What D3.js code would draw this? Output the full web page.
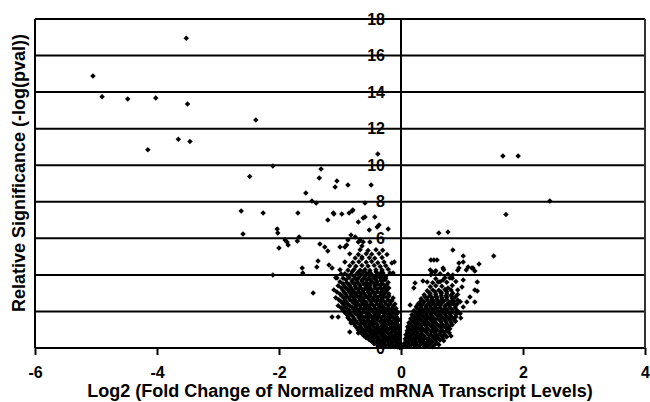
<!DOCTYPE html>
<html>
<head>
<meta charset="utf-8">
<script src="https://cdn.jsdelivr.net/npm/d3@7"></script>
<style>
  html, body { margin: 0; padding: 0; background: #fff; }
  svg { display: block; }
  text { font-family: Arial, "Liberation Sans", sans-serif; font-weight: bold; fill: #000; }
</style>
</head>
<body>
<svg id="chart" width="650" height="402"></svg>
<script>
// ---- Data (log2 fold change, -log(pval)) ----
const xTicks = [-6, -4, -2, 0, 2, 4];
const yTicks = [0, 2, 4, 6, 8, 10, 12, 14, 16, 18];
const xTitle = "Log2 (Fold Change of Normalized mRNA Transcript Levels)";
const yTitle = "Relative Significance (-log(pval))";

// Down-regulated, scattered points
const downScattered = [
  [-5.05,14.88],[-4.90,13.75],[-4.48,13.62],[-4.02,13.68],[-4.15,10.85],[-3.52,16.95],[-3.50,13.35],
  [-3.65,11.42],[-3.46,11.30],[-2.38,12.47],[-2.10,9.96],[-2.48,9.38],[-2.62,7.49],[-2.26,7.38],
  [-2.59,6.24],[-2.03,6.51],[-2.02,6.29],[-1.90,5.91],[-1.85,5.63],[-2.00,5.47],[-1.87,5.80],
  [-1.69,7.38],[-1.67,6.07],[-1.70,5.85],[-1.56,8.48],[-1.46,8.04],[-1.39,7.93],[-1.31,9.79],
  [-1.34,9.30],[-1.20,7.00],[-1.33,5.69],[-1.25,5.53],[-1.20,5.31],[-1.36,4.76],[-1.38,4.43],
  [-1.18,4.54],[-1.62,4.38],[-1.61,4.10],[-2.10,3.99],[-1.44,3.01],[-1.05,9.14],[-1.08,8.81],
  [-0.87,8.92],[-1.10,7.33],[-0.97,7.33],[-0.85,7.38],[-0.80,7.49],[-0.70,6.89],[-0.82,6.18],
  [-0.87,5.91],[-1.00,5.53],[-0.92,5.53],[-0.89,5.63],[-0.70,5.80],[-0.49,8.92],[-0.38,10.61],
  [-0.59,7.93],[-0.59,7.17],[-0.62,7.11],[-0.43,7.17],[-0.52,6.46],[-0.36,6.73],[-0.21,6.51],
  [-0.67,5.91],[-0.62,5.80],[-0.51,5.80],[-0.64,5.58],[-0.75,6.07],[-0.64,4.98],[-1.11,7.38],
  [-0.79,7.55],[-0.39,6.62],[-0.15,4.65],[-0.13,4.10],[-0.11,4.70],[-0.18,4.10],[-1.13,4.38],
  [-1.05,3.83],[-0.98,4.05],[-1.13,1.70],[-1.03,1.70],[-0.84,0.88],[-0.82,1.37],[-0.70,0.82],
  [-0.10,2.41]
];

// Down-regulated, dense cloud near the origin
const downCloud = [
  [-0.02,0.03],
  [-0.38,0.12],[-0.31,0.09],[-0.25,0.14],[-0.18,0.10],[-0.11,0.08],[-0.05,0.05],
  [-0.48,0.35],[-0.41,0.31],[-0.34,0.36],[-0.28,0.30],[-0.21,0.34],[-0.15,0.32],[-0.08,0.29],[-0.03,0.22],
  [-0.57,0.56],[-0.49,0.52],[-0.43,0.58],[-0.36,0.54],[-0.28,0.57],[-0.21,0.53],[-0.15,0.55],[-0.08,0.51],[-0.03,0.45],
  [-0.64,0.78],[-0.56,0.74],[-0.49,0.79],[-0.41,0.75],[-0.34,0.78],[-0.28,0.76],[-0.21,0.80],[-0.15,0.74],[-0.08,0.77],[-0.03,0.70],
  [-0.70,0.99],[-0.62,0.96],[-0.56,1.01],[-0.48,0.97],[-0.41,1.00],[-0.33,0.95],[-0.26,0.99],[-0.20,1.02],[-0.13,0.96],[-0.07,0.98],
  [-0.75,1.21],[-0.67,1.18],[-0.59,1.23],[-0.52,1.19],[-0.46,1.22],[-0.38,1.17],[-0.31,1.21],[-0.25,1.20],[-0.18,1.24],[-0.11,1.18],[-0.05,1.15],
  [-0.80,1.43],[-0.72,1.40],[-0.64,1.45],[-0.57,1.41],[-0.49,1.44],[-0.43,1.39],[-0.34,1.43],[-0.28,1.42],[-0.21,1.46],[-0.15,1.40],[-0.08,1.38],
  [-0.87,1.65],[-0.77,1.62],[-0.69,1.67],[-0.61,1.63],[-0.54,1.66],[-0.46,1.61],[-0.39,1.65],[-0.33,1.68],[-0.25,1.62],[-0.18,1.66],[-0.11,1.63],[-0.05,1.60],
  [-0.90,1.87],[-0.82,1.84],[-0.74,1.88],[-0.66,1.85],[-0.57,1.89],[-0.51,1.83],[-0.43,1.87],[-0.36,1.86],[-0.28,1.90],[-0.21,1.84],[-0.15,1.88],[-0.08,1.85],
  [-0.95,2.09],[-0.85,2.06],[-0.77,2.10],[-0.70,2.07],[-0.62,2.11],[-0.54,2.05],[-0.48,2.09],[-0.39,2.08],[-0.33,2.12],[-0.25,2.06],[-0.18,2.10],[-0.10,2.07],
  [-1.03,2.31],[-0.92,2.28],[-0.84,2.32],[-0.74,2.29],[-0.67,2.33],[-0.59,2.27],[-0.52,2.31],[-0.44,2.30],[-0.36,2.34],[-0.30,2.28],[-0.21,2.32],[-0.13,2.29],
  [-0.98,2.53],[-0.89,2.50],[-0.80,2.54],[-0.72,2.51],[-0.64,2.55],[-0.57,2.49],[-0.49,2.53],[-0.41,2.52],[-0.34,2.56],[-0.26,2.50],[-0.18,2.54],
  [-1.07,2.75],[-0.93,2.72],[-0.85,2.76],[-0.77,2.73],[-0.69,2.77],[-0.62,2.71],[-0.54,2.75],[-0.46,2.74],[-0.39,2.78],[-0.31,2.72],[-0.23,2.76],[-0.13,2.73],
  [-1.00,2.96],[-0.90,2.93],[-0.82,2.97],[-0.74,2.94],[-0.66,2.98],[-0.59,2.92],[-0.51,2.96],[-0.43,2.95],[-0.34,2.99],[-0.28,2.93],[-0.20,2.97],
  [-1.10,3.18],[-0.95,3.15],[-0.87,3.19],[-0.79,3.16],[-0.70,3.20],[-0.62,3.14],[-0.54,3.18],[-0.48,3.17],[-0.39,3.21],[-0.31,3.15],[-0.23,3.19],
  [-1.03,3.40],[-0.92,3.37],[-0.84,3.41],[-0.75,3.38],[-0.67,3.42],[-0.57,3.36],[-0.51,3.40],[-0.43,3.39],[-0.34,3.43],[-0.26,3.37],
  [-1.00,3.62],[-0.89,3.59],[-0.80,3.63],[-0.72,3.60],[-0.64,3.64],[-0.56,3.58],[-0.48,3.62],[-0.39,3.61],[-0.31,3.65],[-0.21,3.59],
  [-1.07,3.84],[-0.95,3.81],[-0.85,3.85],[-0.75,3.82],[-0.69,3.86],[-0.61,3.80],[-0.52,3.84],[-0.44,3.83],[-0.34,3.87],[-0.25,3.81],
  [-0.92,4.06],[-0.82,4.03],[-0.72,4.07],[-0.64,4.04],[-0.56,4.08],[-0.48,4.02],[-0.38,4.06],[-0.30,4.05],
  [-1.00,4.28],[-0.87,4.25],[-0.77,4.29],[-0.67,4.26],[-0.59,4.30],[-0.51,4.24],[-0.41,4.28],[-0.31,4.27],[-0.21,4.31],
  [-0.84,4.50],[-0.74,4.47],[-0.64,4.51],[-0.54,4.48],[-0.44,4.52],[-0.34,4.46],[-0.25,4.50],
  [-0.92,4.71],[-0.79,4.68],[-0.69,4.72],[-0.57,4.69],[-0.48,4.73],[-0.38,4.67],[-0.28,4.71],
  [-0.75,4.93],[-0.64,4.90],[-0.52,4.94],[-0.43,4.91],[-0.31,4.95],
  [-0.84,5.15],[-0.70,5.12],[-0.57,5.16],[-0.48,5.13],[-0.36,5.17],[-0.23,5.11],
  [-0.67,5.37],[-0.54,5.34],[-0.41,5.38],[-0.30,5.35]
];

// Down-regulated, solid core (points between the rows above)
const downCore = [
  [-0.44,0.23],[-0.36,0.20],[-0.30,0.24],[-0.21,0.21],[-0.15,0.22],[-0.08,0.19],
  [-0.52,0.45],[-0.46,0.42],[-0.38,0.46],[-0.31,0.43],[-0.25,0.44],[-0.18,0.41],[-0.11,0.45],[-0.07,0.40],
  [-0.61,0.67],[-0.52,0.64],[-0.46,0.68],[-0.39,0.65],[-0.31,0.66],[-0.25,0.63],[-0.18,0.67],[-0.11,0.64],[-0.05,0.60],
  [-0.67,0.89],[-0.59,0.86],[-0.52,0.90],[-0.44,0.87],[-0.38,0.88],[-0.30,0.85],[-0.23,0.89],[-0.16,0.86],[-0.10,0.88],[-0.03,0.84],
  [-0.72,1.10],[-0.64,1.07],[-0.57,1.11],[-0.51,1.08],[-0.43,1.09],[-0.36,1.06],[-0.30,1.10],[-0.23,1.08],[-0.16,1.11],[-0.10,1.07],[-0.03,1.05],
  [-0.77,1.32],[-0.67,1.29],[-0.61,1.33],[-0.52,1.30],[-0.46,1.31],[-0.39,1.28],[-0.31,1.32],[-0.25,1.30],[-0.18,1.33],[-0.11,1.29],[-0.05,1.27],
  [-0.84,1.54],[-0.75,1.51],[-0.67,1.55],[-0.61,1.52],[-0.54,1.53],[-0.46,1.50],[-0.39,1.54],[-0.31,1.52],[-0.25,1.55],[-0.18,1.51],[-0.11,1.53],[-0.05,1.49],
  [-0.87,1.76],[-0.79,1.73],[-0.70,1.77],[-0.64,1.74],[-0.57,1.75],[-0.49,1.72],[-0.43,1.76],[-0.36,1.74],[-0.28,1.77],[-0.21,1.73],[-0.15,1.75],[-0.08,1.71],
  [-0.93,1.98],[-0.85,1.95],[-0.77,1.99],[-0.70,1.96],[-0.62,1.97],[-0.54,1.94],[-0.46,1.98],[-0.39,1.96],[-0.33,1.99],[-0.26,1.95],[-0.18,1.97],[-0.11,1.93],[-0.05,1.94],
  [-0.98,2.20],[-0.89,2.17],[-0.80,2.21],[-0.74,2.18],[-0.66,2.19],[-0.57,2.16],[-0.51,2.20],[-0.43,2.18],[-0.36,2.21],[-0.28,2.17],[-0.21,2.19],[-0.15,2.15],[-0.08,2.16],
  [-0.95,2.42],[-0.87,2.39],[-0.77,2.43],[-0.70,2.40],[-0.62,2.41],[-0.56,2.38],[-0.48,2.42],[-0.39,2.40],[-0.33,2.43],[-0.25,2.39],[-0.18,2.41],
  [-1.02,2.64],[-0.92,2.61],[-0.84,2.65],[-0.75,2.62],[-0.67,2.63],[-0.61,2.60],[-0.52,2.64],[-0.44,2.62],[-0.38,2.65],[-0.30,2.61],[-0.21,2.63],[-0.15,2.59],
  [-0.97,2.85],[-0.89,2.82],[-0.80,2.86],[-0.72,2.83],[-0.66,2.84],[-0.57,2.81],[-0.51,2.85],[-0.43,2.83],[-0.34,2.86],[-0.28,2.82],[-0.20,2.84],
  [-1.05,3.07],[-0.93,3.04],[-0.85,3.08],[-0.77,3.05],[-0.70,3.06],[-0.62,3.03],[-0.54,3.07],[-0.46,3.05],[-0.39,3.08],[-0.31,3.04],[-0.25,3.06],
  [-0.98,3.29],[-0.89,3.26],[-0.82,3.30],[-0.74,3.27],[-0.66,3.28],[-0.59,3.25],[-0.51,3.29],[-0.43,3.27],[-0.34,3.30],[-0.28,3.26],[-0.20,3.28],
  [-0.95,3.51],[-0.85,3.48],[-0.77,3.52],[-0.69,3.49],[-0.61,3.50],[-0.52,3.47],[-0.44,3.51],[-0.38,3.49],[-0.30,3.52],[-0.23,3.48],
  [-0.90,3.73],[-0.80,3.70],[-0.72,3.74],[-0.64,3.71],[-0.56,3.72],[-0.49,3.69],[-0.41,3.73],[-0.33,3.71],[-0.26,3.74],
  [-0.87,3.95],[-0.77,3.92],[-0.67,3.96],[-0.59,3.93],[-0.51,3.94],[-0.43,3.91],[-0.34,3.95],[-0.25,3.93],
  [-0.80,4.17],[-0.70,4.14],[-0.61,4.18],[-0.51,4.15],[-0.41,4.16],[-0.30,4.13]
];

// Up-regulated, dense cloud near the origin
const upCloud = [
  [0.01,0.03],
  [0.03,0.06],[0.10,0.10],[0.16,0.13],[0.23,0.09],[0.30,0.12],[0.38,0.08],[0.44,0.11],[0.52,0.07],
  [0.05,0.25],[0.11,0.31],[0.18,0.35],[0.25,0.32],[0.31,0.36],[0.38,0.30],[0.44,0.34],[0.51,0.33],[0.59,0.29],
  [0.07,0.50],[0.13,0.56],[0.20,0.53],[0.26,0.57],[0.33,0.54],[0.39,0.58],[0.46,0.52],[0.54,0.56],[0.61,0.55],[0.69,0.51],
  [0.08,0.72],[0.15,0.78],[0.21,0.75],[0.28,0.79],[0.34,0.76],[0.43,0.80],[0.49,0.74],[0.56,0.78],[0.64,0.77],[0.72,0.73],
  [0.10,0.94],[0.16,0.99],[0.23,0.97],[0.31,1.01],[0.38,0.98],[0.44,1.02],[0.52,0.96],[0.59,1.00],[0.67,0.99],[0.75,0.95],
  [0.11,1.16],[0.18,1.21],[0.26,1.19],[0.33,1.23],[0.41,1.20],[0.48,1.24],[0.54,1.18],[0.62,1.22],[0.70,1.21],[0.79,1.17],
  [0.13,1.38],[0.21,1.43],[0.28,1.41],[0.36,1.45],[0.43,1.42],[0.51,1.46],[0.57,1.40],[0.66,1.44],[0.74,1.43],[0.82,1.39],[0.89,1.45],
  [0.16,1.60],[0.23,1.65],[0.31,1.63],[0.38,1.67],[0.46,1.64],[0.52,1.68],[0.61,1.62],[0.69,1.66],[0.77,1.65],[0.85,1.61],
  [0.18,1.82],[0.26,1.87],[0.33,1.85],[0.41,1.89],[0.49,1.86],[0.56,1.90],[0.64,1.84],[0.72,1.88],[0.80,1.87],[0.90,1.83],[0.97,1.89],
  [0.21,2.04],[0.30,2.09],[0.36,2.07],[0.44,2.11],[0.52,2.08],[0.59,2.12],[0.67,2.06],[0.75,2.10],[0.84,2.09],[0.92,2.05],
  [0.25,2.26],[0.33,2.31],[0.41,2.29],[0.48,2.33],[0.56,2.30],[0.64,2.34],[0.72,2.28],[0.80,2.32],[0.89,2.31],
  [0.30,2.48],[0.38,2.53],[0.46,2.51],[0.54,2.55],[0.62,2.52],[0.70,2.56],[0.79,2.50],[0.87,2.54],[0.97,2.53],
  [0.33,2.70],[0.43,2.75],[0.51,2.73],[0.59,2.77],[0.67,2.74],[0.75,2.78],[0.84,2.72],
  [0.38,2.91],[0.48,2.96],[0.57,2.94],[0.66,2.98],[0.75,2.95],[0.85,2.99],[0.93,2.93],
  [0.43,3.13],[0.52,3.18],[0.62,3.16],[0.72,3.20],[0.82,3.17],
  [0.48,3.35],[0.57,3.40],[0.67,3.38],[0.84,3.42],
  [0.52,3.57],[0.64,3.62],[0.75,3.60],[0.90,3.64],
  [0.57,3.79],[0.72,3.84],[0.84,3.82],
  [0.49,4.01],[0.64,4.06],[0.77,4.04],
  [0.57,4.23],[0.70,4.28],[0.93,4.26]
];

// Up-regulated, solid core (points between the rows above)
const upCore = [
  [0.07,0.20],[0.13,0.22],[0.20,0.24],[0.26,0.21],[0.34,0.23],[0.41,0.19],[0.48,0.22],[0.56,0.20],[0.62,0.18],
  [0.08,0.42],[0.15,0.45],[0.23,0.43],[0.30,0.46],[0.36,0.44],[0.43,0.47],[0.49,0.41],[0.56,0.45],[0.64,0.44],[0.70,0.40],
  [0.10,0.64],[0.16,0.67],[0.25,0.65],[0.31,0.68],[0.38,0.66],[0.46,0.69],[0.52,0.63],[0.59,0.67],[0.67,0.66],[0.75,0.62],
  [0.11,0.86],[0.20,0.89],[0.26,0.87],[0.34,0.90],[0.41,0.88],[0.49,0.91],[0.56,0.85],[0.64,0.89],[0.70,0.88],[0.79,0.84],
  [0.13,1.07],[0.21,1.10],[0.28,1.08],[0.34,1.11],[0.43,1.09],[0.51,1.12],[0.57,1.06],[0.66,1.10],[0.74,1.09],[0.80,1.05],
  [0.16,1.29],[0.23,1.32],[0.30,1.30],[0.38,1.33],[0.46,1.31],[0.52,1.34],[0.59,1.28],[0.67,1.32],[0.75,1.31],[0.84,1.27],
  [0.18,1.51],[0.26,1.54],[0.33,1.52],[0.41,1.55],[0.49,1.53],[0.56,1.56],[0.64,1.50],[0.72,1.54],[0.80,1.53],[0.89,1.49],
  [0.21,1.73],[0.28,1.76],[0.36,1.74],[0.43,1.77],[0.51,1.75],[0.59,1.78],[0.66,1.72],[0.74,1.76],[0.82,1.75],[0.90,1.71],
  [0.23,1.95],[0.31,1.98],[0.38,1.96],[0.46,1.99],[0.54,1.97],[0.61,2.00],[0.69,1.94],[0.77,1.98],[0.85,1.97],[0.93,1.93],
  [0.26,2.17],[0.33,2.20],[0.41,2.18],[0.49,2.21],[0.56,2.19],[0.64,2.22],[0.72,2.16],[0.80,2.20],[0.89,2.19],
  [0.28,2.39],[0.36,2.42],[0.44,2.40],[0.52,2.43],[0.59,2.41],[0.67,2.44],[0.75,2.38],[0.84,2.42],[0.92,2.41],
  [0.34,2.61],[0.43,2.64],[0.51,2.62],[0.59,2.65],[0.67,2.63],[0.75,2.66],[0.84,2.60],
  [0.39,2.82],[0.48,2.85],[0.57,2.83],[0.66,2.86],[0.74,2.84],[0.82,2.87],
  [0.46,3.04],[0.56,3.07],[0.66,3.05],[0.75,3.08]
];

// Up-regulated, scattered points
const upScattered = [
  [1.67,10.50],[1.92,10.50],[2.44,8.04],[1.72,7.30],[0.62,6.29],[0.77,6.35],[0.85,5.36],[1.52,5.03],
  [1.28,4.60],[1.18,4.38],[1.21,4.21],[1.02,5.03],[0.95,4.65],[0.95,4.38],[1.25,3.12],[1.21,2.52],
  [0.98,1.64],[0.82,0.66],[0.49,4.81],[0.54,4.81],[0.59,4.81],[0.69,4.38],[0.51,4.16],[0.23,3.56],
  [0.21,3.28],[0.36,3.67],[0.43,3.61],[0.15,2.35],[1.02,4.70],[1.10,4.43],[1.16,4.38],[1.07,4.27],
  [1.21,3.17],[1.25,3.61],[1.02,3.72],[1.00,3.34],[0.93,3.17],[0.85,3.99],[0.80,3.83],[0.69,3.72],
  [0.61,3.61],[0.56,4.16],[0.48,4.27],[0.77,3.28],[0.89,2.79],[1.13,2.79],[1.08,2.52],[1.02,2.24],
  [0.93,2.63]
];

// ---- Chart ----
const svg = d3.select("#chart");
const x = d3.scaleLinear().domain([-6, 4]).range([35, 645]);
const y = d3.scaleLinear().domain([0, 18]).range([348, 19]);
const FONT = "Arial, 'Liberation Sans', sans-serif";

// Horizontal gridlines
svg.append("g").selectAll("line").data(yTicks).join("line")
  .attr("x1", x(-6)).attr("x2", x(4))
  .attr("y1", d => y(d)).attr("y2", d => y(d))
  .attr("stroke", "#000").attr("stroke-width", 2);

// Left border, y axis at 0, right border
svg.append("g").selectAll("line").data([-6, 0, 4]).join("line")
  .attr("x1", d => x(d)).attr("x2", d => x(d))
  .attr("y1", y(0)).attr("y2", y(18))
  .attr("stroke", d => d === 4 ? "#333" : "#000")
  .attr("stroke-width", 2);

// X axis
const xAxis = svg.append("g")
  .attr("transform", `translate(0,${y(0)})`)
  .call(d3.axisBottom(x).tickValues(xTicks).tickSize(7).tickPadding(12).tickFormat(d => String(d)));
xAxis.select(".domain").remove();
xAxis.selectAll("line").attr("stroke", "#000").attr("stroke-width", 2);
xAxis.selectAll("text").attr("font-size", 16).attr("font-family", FONT).attr("font-weight", "bold").attr("fill", "#000");

// Points
const allPoints = [].concat(downScattered, downCloud, downCore, upCloud, upCore, upScattered);
const diamond = d3.symbol().type(d3.symbolSquare).size(15);
svg.append("g").selectAll("path").data(allPoints).join("path")
  .attr("d", diamond)
  .attr("transform", d => `translate(${x(d[0])},${y(d[1])}) rotate(45)`)
  .attr("fill", "#000");

// Y axis labels at x = 0 (drawn over the points, as in the reference)
const yAxis = svg.append("g")
  .attr("transform", `translate(${x(0)},0)`)
  .call(d3.axisLeft(y).tickValues(yTicks).tickSize(0).tickPadding(16).tickFormat(d => String(d)));
yAxis.select(".domain").remove();
yAxis.selectAll("text").attr("font-size", 16).attr("font-family", FONT).attr("font-weight", "bold").attr("fill", "#000");

// Titles
svg.append("text")
  .attr("x", (x(-6) + x(4)) / 2).attr("y", 397)
  .attr("text-anchor", "middle").attr("font-size", 18)
  .text(xTitle);

svg.append("text")
  .attr("transform", `translate(25,173) rotate(-90)`)
  .attr("text-anchor", "middle").attr("font-size", 18)
  .text(yTitle);
</script>
</body>
</html>
